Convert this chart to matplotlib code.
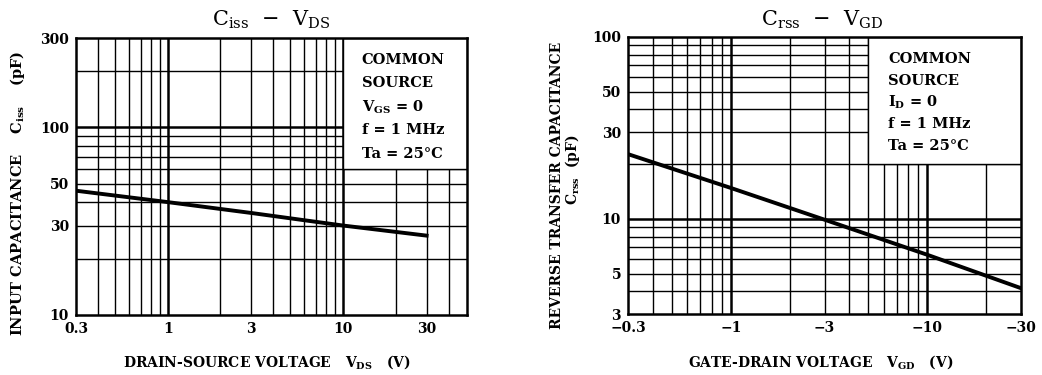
import matplotlib
matplotlib.use("Agg")
import matplotlib.pyplot as plt
from matplotlib.patches import Rectangle
from matplotlib.ticker import FixedLocator, NullLocator

plt.rcParams['font.family'] = ['DejaVu Serif']
plt.rcParams['mathtext.fontset'] = 'dejavuserif'

MINUS = '\u2212'

# Ciss - VDS
vds = [0.3, 1, 3, 10, 30]
ciss = [46, 40, 35, 30, 26.5]
x1_ticks = [0.3, 1, 3, 10, 30]
x1_labels = ['0.3', '1', '3', '10', '30']
y1_ticks = [10, 30, 50, 100, 300]
y1_labels = ['10', '30', '50', '100', '300']
x1_grid = [0.4, 0.5, 0.6, 0.7, 0.8, 0.9, 1, 2, 3, 4, 5, 6, 7, 8, 9, 10, 20, 30, 40]
y1_grid = [20, 30, 40, 50, 60, 70, 80, 90, 100, 200]

# Crss - VGD
vgd = [-0.3, -1, -3, -10, -30]
crss = [22.7, 14.8, 9.9, 6.35, 4.16]
x2_ticks = [0.3, 1, 3, 10, 30]
x2_labels = [MINUS + '0.3', MINUS + '1', MINUS + '3', MINUS + '10', MINUS + '30']
y2_ticks = [3, 5, 10, 30, 50, 100]
y2_labels = ['3', '5', '10', '30', '50', '100']
x2_grid = [0.4, 0.5, 0.6, 0.7, 0.8, 0.9, 1, 2, 3, 4, 5, 6, 7, 8, 9, 10, 20]
y2_grid = [4, 5, 6, 7, 8, 9, 10, 20, 30, 40, 50, 60, 70, 80, 90]

fig = plt.figure(figsize=(10.42, 3.75), dpi=100)
ax1 = fig.add_axes([76/1042, 60/375, 391/1042, 277/375])
ax2 = fig.add_axes([628/1042, 61/375, 393/1042, 277/375])


def setup(ax, xlim, ylim, xg, yg, xt, xl, yt, yl, box):
    ax.set_xscale('log')
    ax.set_yscale('log')
    ax.set_xlim(*xlim)
    ax.set_ylim(*ylim)
    for v in xg:
        ax.axvline(v, color='k', lw=1.8 if v in (1, 10) else 1.0, zorder=1)
    for v in yg:
        ax.axhline(v, color='k', lw=1.8 if v in (10, 100) else 1.0, zorder=1)
    ax.add_patch(Rectangle((box[0], box[1]), box[2] - box[0], box[3] - box[1],
                           facecolor='white', edgecolor='k', lw=1.0, zorder=2))
    ax.xaxis.set_major_locator(FixedLocator(xt))
    ax.xaxis.set_minor_locator(NullLocator())
    ax.yaxis.set_major_locator(FixedLocator(yt))
    ax.yaxis.set_minor_locator(NullLocator())
    ax.set_xticklabels(xl, fontweight='bold', fontsize=10)
    ax.set_yticklabels(yl, fontweight='bold', fontsize=10)
    ax.tick_params(length=0, pad=5)
    for s in ax.spines.values():
        s.set_linewidth(1.8)
        s.set_zorder(4)


setup(ax1, (0.3, 51), (10, 300), x1_grid, y1_grid, x1_ticks, x1_labels,
      y1_ticks, y1_labels, (10, 60, 51, 300))
setup(ax2, (0.3, 30), (3, 100), x2_grid, y2_grid, x2_ticks, x2_labels,
      y2_ticks, y2_labels, (5, 20, 30, 100))

ax1.plot(vds, ciss, color='k', lw=2.8, zorder=3)
ax2.plot([-v for v in vgd], crss, color='k', lw=2.8, zorder=3)

tk = dict(fontweight='bold', fontsize=10.5, ha='left', va='baseline', zorder=5)
box1 = ['COMMON', 'SOURCE', r'V$\mathregular{_{GS}}$ = 0', 'f = 1 MHz', 'Ta = 25\u00b0C']
for txt, y in zip(box1, [0.906, 0.824, 0.736, 0.652, 0.566]):
    ax1.text(0.731, y, txt, transform=ax1.transAxes, **tk)
box2 = ['COMMON', 'SOURCE', r'I$\mathregular{_{D}}$ = 0', 'f = 1 MHz', 'Ta = 25\u00b0C']
for txt, y in zip(box2, [0.906, 0.828, 0.750, 0.672, 0.593]):
    ax2.text(0.662, y, txt, transform=ax2.transAxes, **tk)

fig.text(271/1042, 1 - 20/375, r'C$\mathregular{_{iss}}$  ' + MINUS + r'  V$\mathregular{_{DS}}$',
         ha='center', va='center', fontsize=15)
fig.text(822/1042, 1 - 20/375, r'C$\mathregular{_{rss}}$  ' + MINUS + r'  V$\mathregular{_{GD}}$',
         ha='center', va='center', fontsize=15)

fig.text(267/1042, 1 - 362/375, r'DRAIN-SOURCE VOLTAGE   V$\mathregular{_{DS}}$   (V)',
         ha='center', va='center', fontsize=10, fontweight='bold')
fig.text(821/1042, 1 - 362/375, r'GATE-DRAIN VOLTAGE   V$\mathregular{_{GD}}$   (V)',
         ha='center', va='center', fontsize=10, fontweight='bold')

fig.text(18/1042, 1 - 193/375, r'INPUT CAPACITANCE    C$\mathregular{_{iss}}$    (pF)',
         ha='center', va='center', rotation=90, fontsize=10.5, fontweight='bold')
fig.text(557/1042, 1 - 185/375, 'REVERSE TRANSFER CAPACITANCE',
         ha='center', va='center', rotation=90, fontsize=10, fontweight='bold')
fig.text(573/1042, 1 - 170/375, r'C$\mathregular{_{rss}}$  (pF)',
         ha='center', va='center', rotation=90, fontsize=10, fontweight='bold')

fig.savefig('out.png', dpi=100)
